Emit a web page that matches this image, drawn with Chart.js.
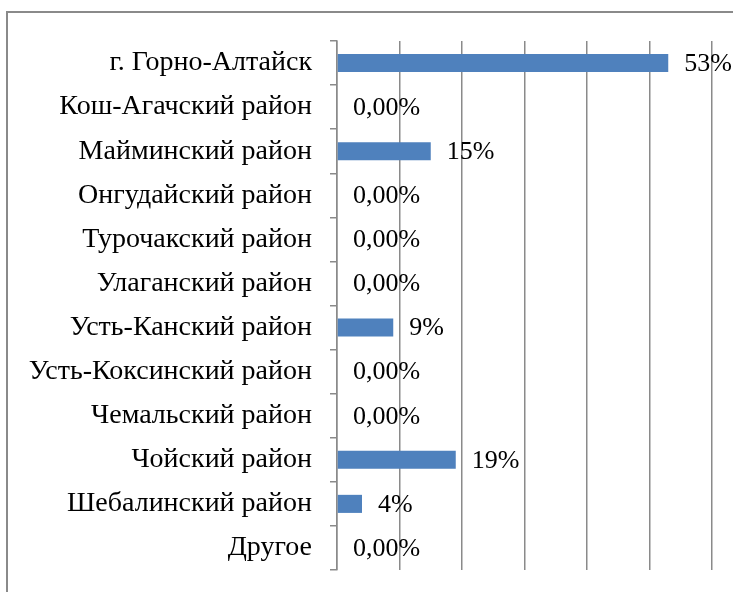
<!DOCTYPE html>
<html>
<head>
<meta charset="utf-8">
<script src="https://cdn.jsdelivr.net/npm/chart.js@4/dist/chart.umd.min.js"></script>
<style>
    html, body { margin: 0; padding: 0; background: #fff; }
    #wrap { width: 733px; height: 592px; }
</style>
</head>
<body>
<div id="wrap"><canvas id="chart" width="733" height="592"></canvas></div>
<script>
const districts = [
    'г. Горно-Алтайск',
    'Кош-Агачский район',
    'Майминский район',
    'Онгудайский район',
    'Турочакский район',
    'Улаганский район',
    'Усть-Канский район',
    'Усть-Коксинский район',
    'Чемальский район',
    'Чойский район',
    'Шебалинский район',
    'Другое'
];
const shares = [53, 0, 15, 0, 0, 0, 9, 0, 0, 19, 4, 0];
const xMax = 60;
const xStep = 10;

const fontFamily = '"Liberation Serif", "Times New Roman", serif';
const gray = '#8a8a8a';

function labelText(v) {
    return v === 0 ? '0,00%' : v + '%';
}

// frame around the chart + value labels
const extras = {
    id: 'extras',
    beforeDraw(chart) {
        let ctx = chart.ctx;
        ctx.save();
        ctx.strokeStyle = gray;
        ctx.lineWidth = 2;
        ctx.strokeRect(7, 12, 760, 620);
        ctx.restore();
    },
    afterDatasetsDraw(chart) {
        let ctx = chart.ctx;
        let meta = chart.getDatasetMeta(0);
        let xScale = chart.scales.x;
        ctx.save();
        ctx.font = '26px ' + fontFamily;
        ctx.fillStyle = '#000';
        ctx.textBaseline = 'middle';
        ctx.textAlign = 'left';
        meta.data.forEach((bar, i) => {
            let x = xScale.getPixelForValue(shares[i]) + 16;
            ctx.fillText(labelText(shares[i]), x, bar.y + 1);
        });
        ctx.restore();
    }
};

new Chart(document.getElementById('chart'), {
    type: 'bar',
    data: {
        labels: districts,
        datasets: [{
            data: shares,
            backgroundColor: '#4f81bd',
            borderWidth: 0,
            barPercentage: 0.41,
            categoryPercentage: 1
        }]
    },
    options: {
        indexAxis: 'y',
        responsive: false,
        animation: false,
        layout: { padding: { top: 41, right: 21, bottom: 22, left: 0 } },
        plugins: {
            legend: { display: false },
            tooltip: { enabled: false }
        },
        scales: {
            x: {
                min: 0,
                max: xMax,
                ticks: { display: false, stepSize: xStep },
                grid: { color: gray, lineWidth: 1.5, drawTicks: false },
                border: { display: false },
                afterFit(scale) { scale.height = 0; }
            },
            y: {
                ticks: {
                    color: '#000',
                    font: { family: fontFamily, size: 28 },
                    padding: 18
                },
                grid: {
                    offset: true,
                    drawOnChartArea: false,
                    drawTicks: true,
                    tickLength: 7,
                    lineWidth: 1.5,
                    color: gray
                },
                border: { display: true, color: gray, width: 1.5 },
                afterFit(scale) {
                    scale.width = 337;
                    scale.paddingTop = 0;
                    scale.paddingBottom = 0;
                }
            }
        }
    },
    plugins: [extras]
});
</script>
</body>
</html>
